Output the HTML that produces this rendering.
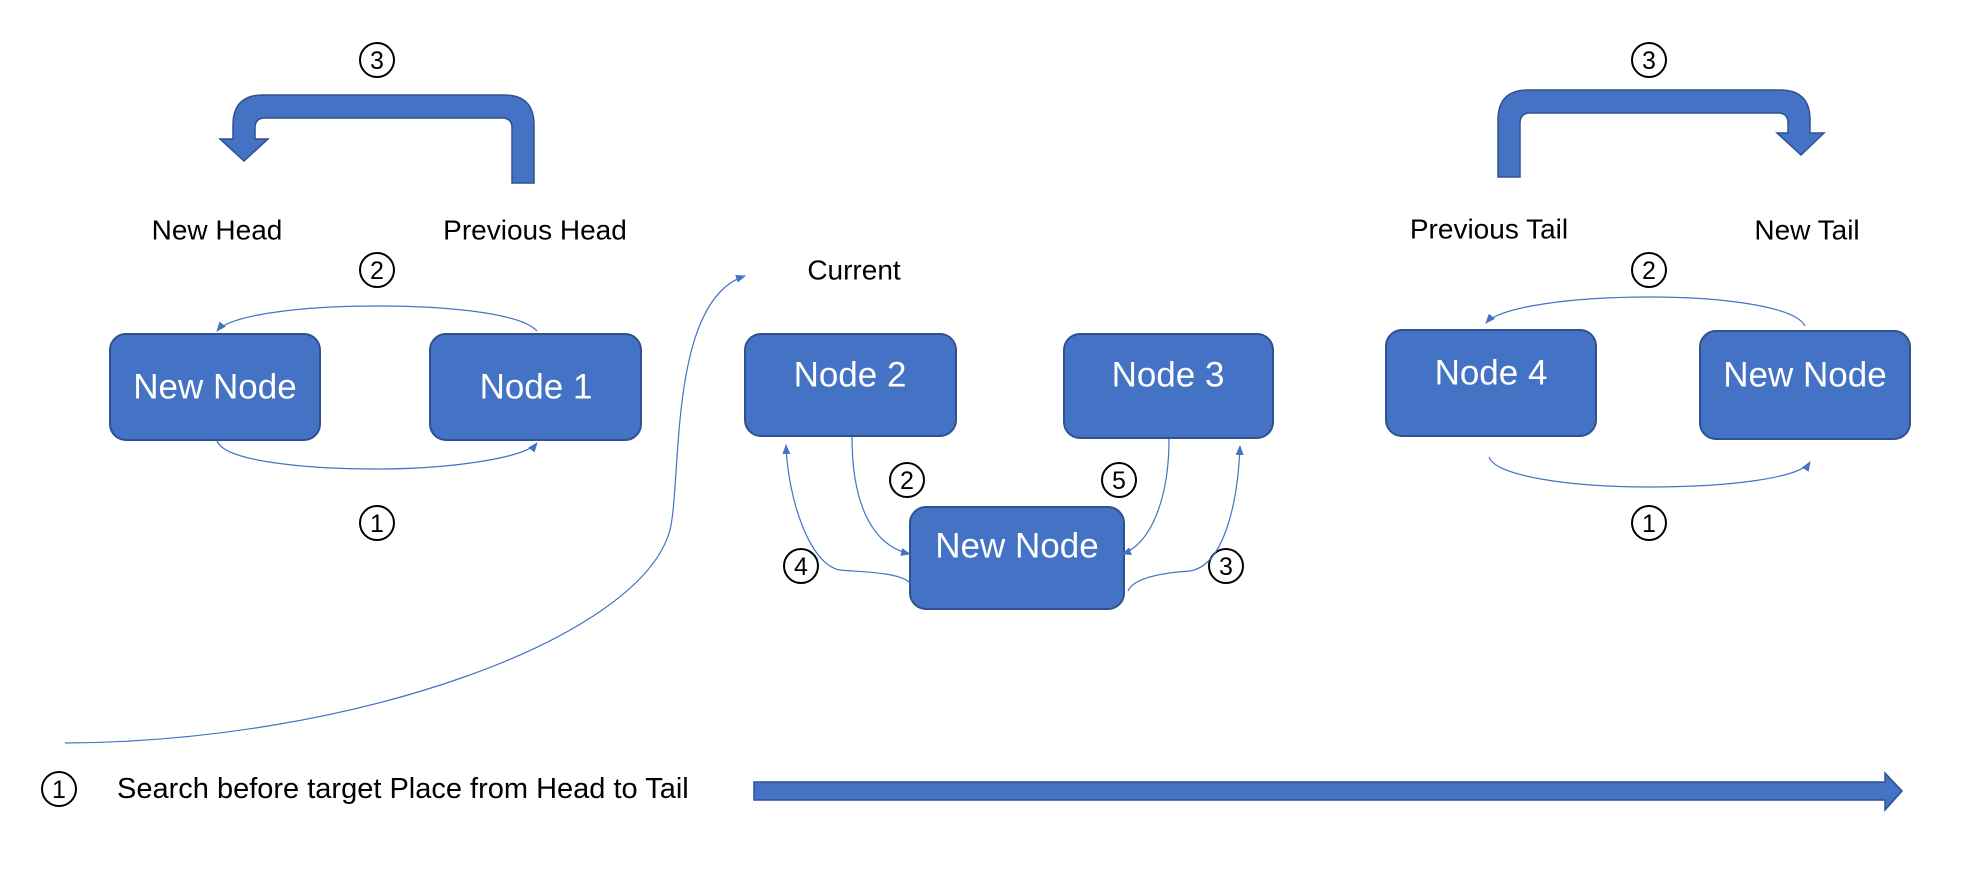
<!DOCTYPE html>
<html><head><meta charset="utf-8"><style>
html,body{margin:0;padding:0;background:#fff;}
svg{display:block;}
text{font-family:"Liberation Sans",sans-serif;}
</style></head><body>
<svg width="1976" height="896" viewBox="0 0 1976 896" xmlns="http://www.w3.org/2000/svg">
<defs>
<marker id="ah" markerWidth="10" markerHeight="8" refX="9" refY="4" orient="auto" markerUnits="userSpaceOnUse">
<path d="M0,0 L10,4 L0,8 Z" fill="#4472c4"/>
</marker>
</defs>
<g fill="#4472c4" stroke="#2f528f" stroke-width="2">
<rect x="110" y="334" width="210" height="106" rx="16"/>
<rect x="430" y="334" width="211" height="106" rx="16"/>
<rect x="745" y="334" width="211" height="102" rx="16"/>
<rect x="910" y="507" width="214" height="102" rx="16"/>
<rect x="1064" y="334" width="209" height="104" rx="16"/>
<rect x="1386" y="330" width="210" height="106" rx="16"/>
<rect x="1700" y="331" width="210" height="108" rx="16"/>
</g>
<g fill="#fff" font-size="35" text-anchor="middle" dominant-baseline="central">
<text x="215" y="387">New Node</text>
<text x="536" y="387">Node 1</text>
<text x="850" y="375">Node 2</text>
<text x="1017" y="546">New Node</text>
<text x="1168" y="375">Node 3</text>
<text x="1491" y="373">Node 4</text>
<text x="1805" y="375">New Node</text>
</g>
<g fill="#000" font-size="28" text-anchor="middle" dominant-baseline="central">
<text x="217" y="230">New Head</text>
<text x="535" y="230">Previous Head</text>
<text x="854" y="270">Current</text>
<text x="1489" y="229">Previous Tail</text>
<text x="1807" y="230">New Tail</text>
<text x="117" y="789" text-anchor="start" font-size="29">Search before target Place from Head to Tail</text>
</g>
<g fill="none" stroke="#000" stroke-width="2">
<circle cx="377" cy="60" r="17"/><circle cx="377" cy="270" r="17"/><circle cx="377" cy="523" r="17"/>
<circle cx="907" cy="480" r="17"/><circle cx="801" cy="566" r="17"/><circle cx="1119" cy="480" r="17"/><circle cx="1226" cy="566" r="17"/>
<circle cx="1649" cy="60" r="17"/><circle cx="1649" cy="270" r="17"/><circle cx="1649" cy="523" r="17"/>
<circle cx="59" cy="789" r="17"/>
</g>
<g fill="#000" font-size="25" text-anchor="middle" dominant-baseline="central">
<text x="377" y="61">3</text><text x="377" y="271">2</text><text x="377" y="524">1</text>
<text x="907" y="481">2</text><text x="801" y="567">4</text><text x="1119" y="481">5</text><text x="1226" y="567">3</text>
<text x="1649" y="61">3</text><text x="1649" y="271">2</text><text x="1649" y="524">1</text>
<text x="59" y="790">1</text>
</g>
<path d="M512,183 L512,128 Q512,118 502,118 L265,118 Q255,118 255,128 L255,139 L268,139 L244,161 L220,139 L233,139 L233,125 Q233,95 263,95 L504,95 Q534,95 534,125 L534,183 Z" fill="#4472c4" stroke="#2f528f" stroke-width="1.5"/>
<path d="M1498,177 L1498,120 Q1498,90 1528,90 L1780,90 Q1810,90 1810,120 L1810,133 L1824,133 L1801,155 L1777,133 L1788,133 L1788,123 Q1788,113 1778,113 L1530,113 Q1520,113 1520,123 L1520,177 Z" fill="#4472c4" stroke="#2f528f" stroke-width="1.5"/>
<path d="M754,782 L1885,782 L1885,773 L1902,791 L1885,810 L1885,800 L754,800 Z" fill="#4472c4" stroke="#2f528f" stroke-width="1.5"/>
<g fill="none" stroke="#4472c4" stroke-width="1.2" marker-end="url(#ah)">
<path d="M537,331 C520,312 440,306 377,306 C300,306 230,315 217,331"/>
<path d="M217,441 C225,462 310,469 377,469 C450,469 525,458 537,443"/>
<path d="M65,743 C350,742 640,640 670,530 C682,480 668,300 745,276"/>
<path d="M852,437 C852,500 870,545 910,554"/>
<path d="M910,583 C900,572 860,572 840,570 C810,565 788,500 786,445"/>
<path d="M1169,439 C1169,500 1150,545 1122,554"/>
<path d="M1128,591 C1135,575 1175,572 1190,571 C1225,565 1238,500 1240,446"/>
<path d="M1805,326 C1795,306 1720,297 1649,297 C1570,297 1500,307 1486,323"/>
<path d="M1489,457 C1495,476 1570,487 1649,487 C1730,487 1800,478 1810,462"/>
</g>
</svg>
</body></html>
